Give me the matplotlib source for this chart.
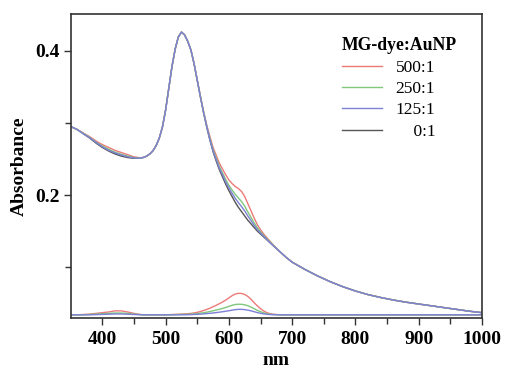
import numpy as np
import matplotlib
matplotlib.use('Agg')
import matplotlib.pyplot as plt
from matplotlib.ticker import FixedLocator
from matplotlib.lines import Line2D

plt.rcParams['font.family'] = ['Liberation Serif', 'DejaVu Serif']

# wavelengths (nm)
wl = [350, 360, 370, 380, 390, 400, 410, 420, 430, 440, 450, 460,
      465, 470, 475, 480, 485, 490, 495, 500, 505, 510, 515, 520, 525, 530,
      535, 540, 545, 550, 555, 560, 565, 570, 575, 580, 585, 590, 595, 600,
      605, 610, 615, 620, 625, 630, 635, 640, 645, 650, 655, 660, 665, 670,
      675, 680, 685, 690, 695, 700,
      720, 740, 760, 780, 800, 820, 840, 860, 880, 900, 920, 940, 960, 980, 1000]

# AuNP + dye spectra
abs_0 = [0.295, 0.291, 0.285, 0.279, 0.272, 0.266, 0.261, 0.257, 0.254, 0.252, 0.251, 0.2512,
         0.2522, 0.2540, 0.2570, 0.2615, 0.2685, 0.2790, 0.2945, 0.318, 0.348, 0.378, 0.402, 0.419, 0.426, 0.422,
         0.413, 0.401, 0.382, 0.359, 0.336, 0.314, 0.294, 0.276, 0.260, 0.247, 0.235, 0.225, 0.215, 0.206,
         0.198, 0.190, 0.183, 0.177, 0.171, 0.165, 0.160, 0.155, 0.150, 0.146, 0.142, 0.138, 0.134, 0.130,
         0.126, 0.122, 0.118, 0.114, 0.1105, 0.107,
         0.097, 0.088, 0.080, 0.073, 0.067, 0.062, 0.058, 0.0545, 0.0515, 0.049, 0.0465, 0.044, 0.0415, 0.039, 0.037]
abs_500 = [0.295, 0.291, 0.286, 0.281, 0.275, 0.270, 0.266, 0.262, 0.259, 0.256, 0.253, 0.2517,
           0.2522, 0.2540, 0.2570, 0.2615, 0.2685, 0.2790, 0.2945, 0.318, 0.348, 0.378, 0.402, 0.419, 0.426, 0.422,
           0.413, 0.401, 0.382, 0.3595, 0.337, 0.316, 0.297, 0.281, 0.266, 0.255, 0.244, 0.236, 0.228, 0.221,
           0.216, 0.212, 0.209, 0.205, 0.198, 0.188, 0.178, 0.168, 0.159, 0.152, 0.146, 0.141, 0.136, 0.131,
           0.1265, 0.122, 0.118, 0.114, 0.1105, 0.107,
           0.097, 0.088, 0.080, 0.073, 0.067, 0.062, 0.058, 0.0545, 0.0515, 0.049, 0.0465, 0.044, 0.0415, 0.039, 0.037]
abs_250 = [0.295, 0.291, 0.2855, 0.280, 0.2735, 0.268, 0.2635, 0.2595, 0.2565, 0.254, 0.252, 0.2512,
           0.2522, 0.2540, 0.2570, 0.2615, 0.2685, 0.2790, 0.2945, 0.318, 0.348, 0.378, 0.402, 0.419, 0.426, 0.422,
           0.413, 0.401, 0.382, 0.359, 0.3365, 0.315, 0.2955, 0.2785, 0.263, 0.251, 0.2395, 0.2305, 0.2215, 0.2135,
           0.207, 0.201, 0.196, 0.191, 0.1845, 0.1765, 0.169, 0.1615, 0.1545, 0.149, 0.144, 0.1395, 0.135, 0.1305,
           0.126, 0.122, 0.118, 0.114, 0.1105, 0.107,
           0.097, 0.088, 0.080, 0.073, 0.067, 0.062, 0.058, 0.0545, 0.0515, 0.049, 0.0465, 0.044, 0.0415, 0.039, 0.037]
abs_125 = [0.295, 0.291, 0.285, 0.2795, 0.273, 0.267, 0.262, 0.2585, 0.2555, 0.253, 0.2515, 0.2512,
           0.2522, 0.2540, 0.2570, 0.2615, 0.2685, 0.2790, 0.2945, 0.318, 0.348, 0.378, 0.402, 0.419, 0.426, 0.422,
           0.413, 0.401, 0.382, 0.359, 0.336, 0.3145, 0.295, 0.277, 0.2615, 0.249, 0.237, 0.228, 0.218, 0.210,
           0.2025, 0.1955, 0.1895, 0.184, 0.178, 0.171, 0.1645, 0.158, 0.152, 0.1475, 0.143, 0.1385, 0.134, 0.130,
           0.126, 0.122, 0.118, 0.114, 0.1105, 0.107,
           0.097, 0.088, 0.080, 0.073, 0.067, 0.062, 0.058, 0.0545, 0.0515, 0.049, 0.0465, 0.044, 0.0415, 0.039, 0.037]

# dye-only spectra
dye_500 = [0.034, 0.034, 0.0345, 0.035, 0.036, 0.037, 0.038, 0.0395, 0.0395, 0.038, 0.036, 0.0345,
           0.034, 0.034, 0.034, 0.034, 0.034, 0.034, 0.034, 0.034, 0.0342, 0.0344, 0.0346, 0.0348, 0.035, 0.0353,
           0.0356, 0.036, 0.0366, 0.0375, 0.0386, 0.040, 0.0415, 0.0432, 0.0452, 0.0473, 0.0495, 0.0518, 0.0545, 0.0575,
           0.0605, 0.0628, 0.0638, 0.0636, 0.0622, 0.0595, 0.0555, 0.0508, 0.0463, 0.0425, 0.0393, 0.037, 0.0356, 0.0348,
           0.0344, 0.0342, 0.034, 0.034, 0.034, 0.034,
           0.034, 0.034, 0.034, 0.034, 0.034, 0.034, 0.034, 0.034, 0.034, 0.034, 0.034, 0.034, 0.034, 0.034, 0.034]
dye_250 = [0.034, 0.034, 0.034, 0.0345, 0.035, 0.0355, 0.036, 0.0365, 0.0365, 0.036, 0.035, 0.0343,
           0.034, 0.034, 0.034, 0.034, 0.034, 0.034, 0.034, 0.034, 0.0341, 0.0342, 0.0343, 0.0344, 0.0345, 0.0346,
           0.0348, 0.035, 0.0353, 0.0357, 0.0363, 0.037, 0.0377, 0.0386, 0.0396, 0.0406, 0.0417, 0.0429, 0.0442, 0.0457,
           0.0472, 0.0483, 0.0487, 0.0486, 0.0479, 0.0466, 0.0447, 0.0424, 0.0402, 0.0383, 0.0367, 0.0355, 0.0348, 0.0344,
           0.0342, 0.0341, 0.034, 0.034, 0.034, 0.034,
           0.034, 0.034, 0.034, 0.034, 0.034, 0.034, 0.034, 0.034, 0.034, 0.034, 0.034, 0.034, 0.034, 0.034, 0.034]
dye_125 = [0.034, 0.034, 0.034, 0.034, 0.0343, 0.0346, 0.0349, 0.0352, 0.0352, 0.0349, 0.0345, 0.0341,
           0.034, 0.034, 0.034, 0.034, 0.034, 0.034, 0.034, 0.034, 0.034, 0.034, 0.034, 0.034, 0.0341, 0.0341,
           0.0342, 0.0343, 0.0345, 0.0347, 0.035, 0.0353, 0.0357, 0.0361, 0.0366, 0.0371, 0.0377, 0.0383, 0.039, 0.0397,
           0.0405, 0.0412, 0.0416, 0.0416, 0.0412, 0.0405, 0.0395, 0.0383, 0.0371, 0.0361, 0.0353, 0.0347, 0.0344, 0.0342,
           0.0341, 0.034, 0.034, 0.034, 0.034, 0.034,
           0.034, 0.034, 0.034, 0.034, 0.034, 0.034, 0.034, 0.034, 0.034, 0.034, 0.034, 0.034, 0.034, 0.034, 0.034]

labels = ['500:1', '250:1', '125:1', '0:1']
colors = ['#ec7a78', '#7fc77a', '#7d80d6', '#555555']

fig = plt.figure(figsize=(5.05, 3.69), dpi=100)
ax = fig.add_axes([0.140, 0.138, 0.8145, 0.824])

ax.plot(wl, abs_0, color=colors[3], lw=1.0)
ax.plot(wl, abs_500, color=colors[0], lw=1.0)
ax.plot(wl, abs_250, color=colors[1], lw=1.0)
ax.plot(wl, abs_125, color=colors[2], lw=1.0)
ax.plot(wl, dye_500, color=colors[0], lw=1.0)
ax.plot(wl, dye_250, color=colors[1], lw=1.0)
ax.plot(wl, dye_125, color=colors[2], lw=1.0)

ax.set_xlim(350, 1000)
ax.set_ylim(0.0295, 0.451)

ax.xaxis.set_major_locator(FixedLocator([400, 500, 600, 700, 800, 900, 1000]))
ax.xaxis.set_minor_locator(FixedLocator([450, 550, 650, 750, 850, 950]))
ax.yaxis.set_major_locator(FixedLocator([0.2, 0.4]))
ax.yaxis.set_minor_locator(FixedLocator([0.1, 0.3]))
ax.set_yticklabels(['0.2', '0.4'])

ax.tick_params(which='both', direction='out', width=1.0, color='#333333',
               labelsize=14, top=False, right=False)
ax.tick_params(which='major', length=5)
ax.tick_params(which='minor', length=4)
ax.tick_params(axis='x', pad=4)
ax.tick_params(axis='y', pad=3)
for lab in ax.get_xticklabels() + ax.get_yticklabels():
    lab.set_fontweight('bold')
for sp in ax.spines.values():
    sp.set_linewidth(1.2)
    sp.set_color('#333333')

ax.set_xlabel('nm', fontsize=14, fontweight='bold', labelpad=3)
ax.set_ylabel('Absorbance', fontsize=14, fontweight='bold', labelpad=5)

# legend, short label padded with figure spaces so labels line up on the right
handles = [Line2D([], [], color=c, lw=1.0) for c in colors]
leg_labels = ['500:1', '250:1', '125:1', '\u2007\u20070:1']
leg = ax.legend(handles, leg_labels, title='MG-dye:AuNP', loc='upper right',
                bbox_to_anchor=(0.977, 0.975), frameon=False, fontsize=12.5,
                handlelength=2.3, handletextpad=0.8, labelspacing=0.3,
                alignment='left',
                title_fontproperties={'weight': 'bold', 'size': 12.7})

fig.savefig('out.png', dpi=100)
